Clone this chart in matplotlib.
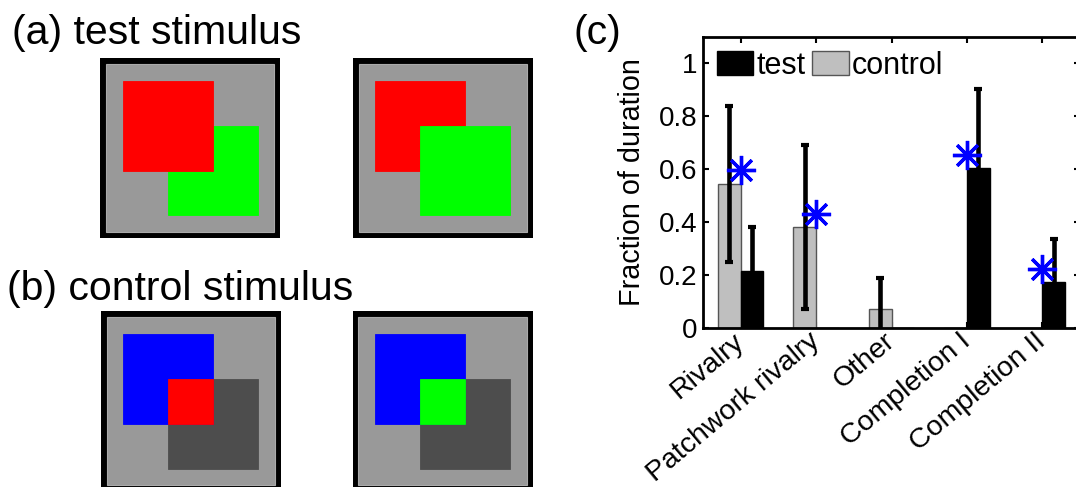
import numpy as np
import matplotlib
matplotlib.use('Agg')
import matplotlib.pyplot as plt
from matplotlib.patches import Rectangle, Patch
from matplotlib.transforms import ScaledTranslation

plt.rcParams['font.family'] = ['Liberation Sans', 'DejaVu Sans']

# chart data
categories = ['Rivalry', 'Patchwork rivalry', 'Other', 'Completion I', 'Completion II']
control_mean = [0.545, 0.38, 0.07, 0.0, 0.0]
control_err = [0.295, 0.31, 0.118, np.nan, np.nan]
test_mean = [0.215, 0.0, 0.0, 0.605, 0.172]
test_err = [0.167, np.nan, np.nan, 0.297, 0.163]
predicted = [0.598, 0.432, np.nan, 0.654, 0.223]
yticks = [0, 0.2, 0.4, 0.6, 0.8, 1]
ytick_labels = ['0', '0.2', '0.4', '0.6', '0.8', '1']

# stimulus squares on an 8x8 grid: (x, y, size, colour), drawn in order
stim_test_1 = [(3, 3, 4, '#00ff00'), (1, 1, 4, '#ff0000')]
stim_test_2 = [(1, 1, 4, '#ff0000'), (3, 3, 4, '#00ff00')]
stim_ctrl_1 = [(3, 3, 4, '#4d4d4d'), (1, 1, 4, '#0000ff'), (3, 3, 2, '#ff0000')]
stim_ctrl_2 = [(3, 3, 4, '#4d4d4d'), (1, 1, 4, '#0000ff'), (3, 3, 2, '#00ff00')]

W, H = 1076, 487
fig = plt.figure(figsize=(W / 100, H / 100), dpi=100)


def px_axes(x0, y0, w, h):
    # pixel box (top-left origin) -> figure axes
    return fig.add_axes([x0 / W, (H - y0 - h) / H, w / W, h / H])


def draw_stimulus(ax, squares):
    ax.set_xlim(0, 8)
    ax.set_ylim(8, 0)
    ax.axis('off')
    ax.add_patch(Rectangle((0, 0), 8, 8, facecolor='black', edgecolor='none'))
    b = 0.26
    ax.add_patch(Rectangle((b, b), 8 - 2 * b, 8 - 2 * b, facecolor='#999999',
                           edgecolor='#aaaaaa', lw=0.8))
    for x, y, s, c in squares:
        ax.add_patch(Rectangle((x, y), s, s, facecolor=c, edgecolor=c, lw=0.6))


draw_stimulus(px_axes(100, 58, 180, 180), stim_test_1)
draw_stimulus(px_axes(352.7, 58, 180, 180), stim_test_2)
draw_stimulus(px_axes(100.7, 311, 180, 180), stim_ctrl_1)
draw_stimulus(px_axes(352.5, 311, 180, 180), stim_ctrl_2)

fig.text(12 / W, (H - 44) / H, '(a) test stimulus', fontsize=29.5, va='baseline')
fig.text(7 / W, (H - 300) / H, '(b) control stimulus', fontsize=29.5, va='baseline')
fig.text(574 / W, (H - 44) / H, '(c)', fontsize=29.5, va='baseline')

# bar chart
ax = px_axes(703, 37, 377, 291)
x = np.arange(1, len(categories) + 1)
w = 0.3
ax.bar(x - w / 2, control_mean, w, color='#bfbfbf', edgecolor='#555555', lw=1, label='control', zorder=2)
ax.bar(x + w / 2, test_mean, w, color='black', edgecolor='black', lw=1, label='test', zorder=2)
ax.errorbar(x - w / 2, control_mean, yerr=control_err, fmt='none', ecolor='black',
            elinewidth=3.3, capsize=3, capthick=3, zorder=3)
ax.errorbar(x + w / 2, test_mean, yerr=test_err, fmt='none', ecolor='black',
            elinewidth=3.3, capsize=3, capthick=3, zorder=3)
ax.plot(x, predicted, linestyle='none', marker=(8, 2, 0), markersize=21,
        markeredgewidth=2.4, color='#0000ff', zorder=4)

ax.set_xlim(0.5, 5.5)
ax.set_ylim(0, 1.1)
ax.set_yticks(yticks)
ax.set_yticklabels(ytick_labels, fontsize=20)
ax.set_xticks(x)
ax.set_xticklabels(categories, fontsize=20.5, rotation=40, ha='right', va='baseline',
                   rotation_mode='anchor')
ax.tick_params(direction='in', length=4, width=1.5, top=True, right=True, pad=4)
ax.tick_params(axis='x', pad=11)
shift = ScaledTranslation(5 / 100, 0, fig.dpi_scale_trans)
for lab in ax.get_xticklabels():
    lab.set_transform(lab.get_transform() + shift)
for sp in ax.spines.values():
    sp.set_linewidth(2)
ax.set_ylabel('Fraction of duration', fontsize=20.7, labelpad=9)

handles = [Patch(facecolor='black', edgecolor='black'),
           Patch(facecolor='#bfbfbf', edgecolor='#555555')]
ax.legend(handles, ['test', 'control'], loc='upper left', ncol=2, frameon=False,
          fontsize=22, handlelength=1.2, handleheight=0.85, handletextpad=0.1,
          columnspacing=0.22, borderaxespad=0.3, borderpad=0.15)

fig.savefig('out.png', dpi=100)
